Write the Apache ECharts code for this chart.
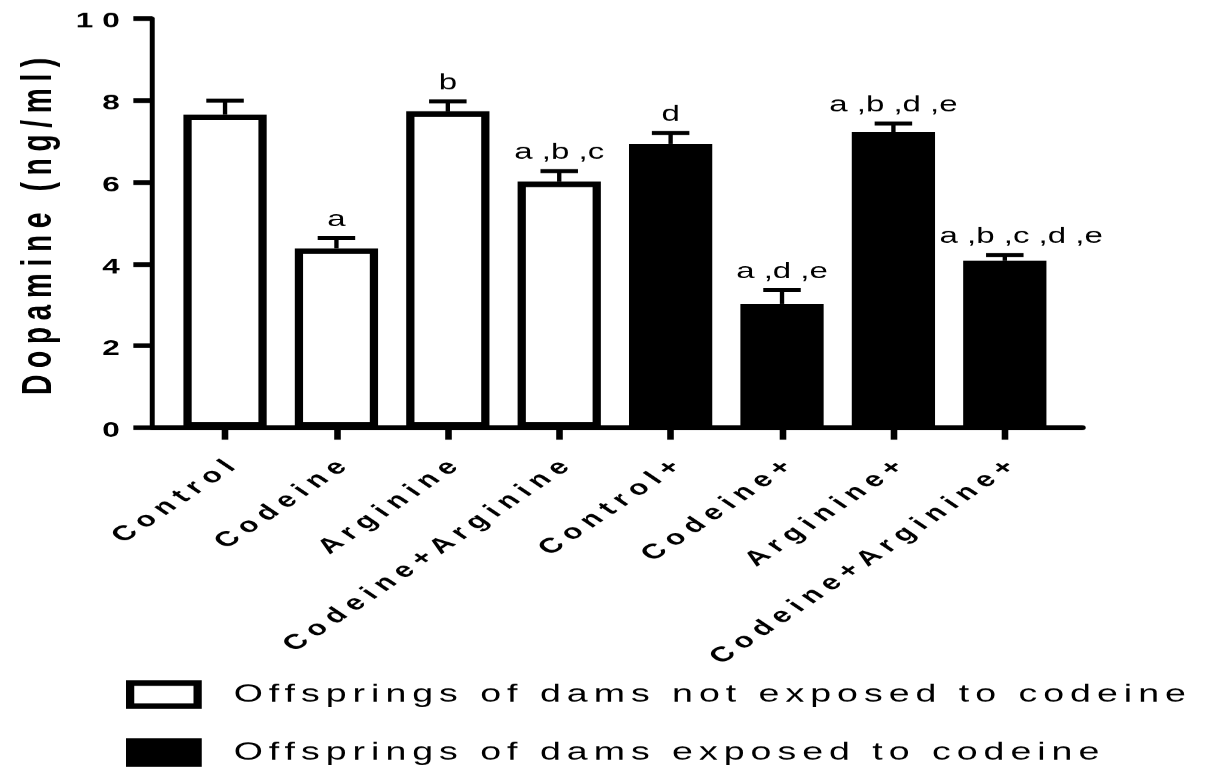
<!DOCTYPE html>
<html>
<head>
<meta charset="utf-8">
<script src="https://cdn.jsdelivr.net/npm/echarts@6/dist/echarts.min.js"></script>
<style>
  html, body { margin: 0; padding: 0; background: #fff; overflow: hidden; }
  #wrap { width: 1206px; height: 767px; overflow: hidden; }
  #chart { width: 804px; height: 767px; transform: scaleX(1.5); transform-origin: 0 0; }
</style>
</head>
<body>
<div id="wrap"><div id="chart"></div></div>
<script>
// ---------------- data ----------------
const categories = ['Control', 'Codeine', 'Arginine', 'Codeine+Arginine',
                    'Control+', 'Codeine+', 'Arginine+', 'Codeine+Arginine+'];
const notExposedMeans = [7.65, 4.38, 7.73, 6.01, null, null, null, null];
const exposedMeans    = [null, null, null, null, 6.93, 3.02, 7.22, 4.08];
const semValues       = [0.34, 0.25, 0.24, 0.26, 0.27, 0.34, 0.21, 0.14];
const sigLabels       = ['', 'a', 'b', 'a ,b ,c', 'd', 'a ,d ,e', 'a ,b ,d ,e', 'a ,b ,c ,d ,e'];
const seriesNames     = ['Offsprings of dams not exposed to codeine',
                         'Offsprings of dams exposed to codeine'];
const yAxisTitle      = 'Dopamine (ng/ml)';
const yMin = 0, yMax = 10, yStep = 2;

// ---------------- text letter spacing (by font size) ----------------
const LETTER_SPACING = { '21': 6, '20.9': 5.4, '22': 0, '25': 4, '28': 6.7 };
(function () {
  const proto = CanvasRenderingContext2D.prototype;
  const orig = proto.fillText;
  proto.fillText = function (text, x, y, maxW) {
    const m = /(\d+(?:\.\d+)?)px/.exec(this.font || '');
    const ls = (m && LETTER_SPACING[m[1]]) || 0;
    const has = ('letterSpacing' in this);
    if (has) this.letterSpacing = ls + 'px';
    const r = maxW === undefined ? orig.call(this, text, x, y) : orig.call(this, text, x, y, maxW);
    if (has) this.letterSpacing = '0px';
    return r;
  };
})();

const FONT = 'Liberation Sans';
const BAR_W = 55.5;
const ANNOT_FONT = '22px "' + FONT + '"';
const measureCtx = document.createElement('canvas').getContext('2d');
function textWidth(t, font) { measureCtx.font = font; return measureCtx.measureText(t).width; }

const means = categories.map((c, i) => notExposedMeans[i] != null ? notExposedMeans[i] : exposedMeans[i]);
const errData = categories.map((c, i) => [i, means[i], semValues[i]]);

const chart = echarts.init(document.getElementById('chart'), null,
  { renderer: 'canvas', devicePixelRatio: 1.5, width: 804, height: 767 });

const gridBox = { top: 18.3, bottom: 339.5, outerBoundsMode: 'none', containLabel: false };

chart.setOption({
  animation: false,
  backgroundColor: '#fff',
  grid: [
    Object.assign({ left: 112.9, right: 97 }, gridBox),   // bars
    Object.assign({ left: 101.7, right: 82.7 }, gridBox)  // axis frame
  ],
  legend: {
    orient: 'vertical',
    left: 84,
    top: 680,
    height: 200,
    padding: 0,
    itemGap: 29.5,
    itemWidth: 45,
    itemHeight: 23,
    icon: 'rect',
    selectedMode: false,
    itemStyle: { borderColor: '#000', borderWidth: 5.5 },
    textStyle: { fontFamily: FONT, fontSize: 25, color: '#000', padding: [0, 0, 0, 19] },
    data: seriesNames.map(n => ({ name: n, icon: 'rect' }))
  },
  xAxis: [
    {
      type: 'category', gridIndex: 0, data: categories,
      axisLine: { show: false },
      axisTick: { show: true, alignWithLabel: true, length: 12, lineStyle: { color: '#000', width: 4.4 } },
      axisLabel: {
        interval: 0, rotate: 45, margin: 25, verticalAlign: 'top', lineHeight: 21,
        fontFamily: FONT, fontSize: 20.9, fontWeight: 'bold', color: '#000'
      },
      splitLine: { show: false }
    },
    {
      type: 'value', gridIndex: 1, min: 0, max: 1,
      axisLine: { show: true, onZero: false, lineStyle: { color: '#000', width: 5 } },
      axisTick: { show: false }, axisLabel: { show: false }, splitLine: { show: false }
    }
  ],
  yAxis: [
    {
      type: 'value', gridIndex: 0, min: yMin, max: yMax, interval: yStep, show: false
    },
    {
      type: 'value', gridIndex: 1, min: yMin, max: yMax, interval: yStep,
      name: yAxisTitle, nameLocation: 'middle', nameRotate: 90, nameGap: 61.5,
      nameTextStyle: { fontFamily: FONT, fontSize: 28, fontWeight: 'bold', color: '#000' },
      axisLine: { show: true, lineStyle: { color: '#000', width: 3.3 } },
      axisTick: { show: true, length: 12.8, lineStyle: { color: '#000', width: 4.7 } },
      axisLabel: { margin: 15.8, verticalAlign: 'top', lineHeight: 7,
                   fontFamily: FONT, fontSize: 21, fontWeight: 'bold', color: '#000' },
      splitLine: { show: false }
    }
  ],
  series: [
    {
      name: seriesNames[0], type: 'bar', xAxisIndex: 0, yAxisIndex: 0,
      data: notExposedMeans, barWidth: BAR_W, barGap: '-100%', z: 2,
      itemStyle: { color: '#fff', borderColor: '#000', borderWidth: 5.5 },
      emphasis: { disabled: true }
    },
    {
      name: seriesNames[1], type: 'bar', xAxisIndex: 0, yAxisIndex: 0,
      data: exposedMeans, barWidth: BAR_W, barGap: '-100%', z: 2,
      itemStyle: { color: '#000', borderColor: '#000', borderWidth: 5.5 },
      emphasis: { disabled: true }
    },
    {
      name: 'SEM', type: 'custom', xAxisIndex: 0, yAxisIndex: 0, z: 3,
      encode: { x: 0, y: 1 },
      data: errData,
      renderItem: function (params, api) {
        const idx = params.dataIndex;
        const i = api.value(0), m = api.value(1), e = api.value(2);
        const base = api.coord([i, m]);
        const top = api.coord([i, m + e]);
        const half = 12.5;
        const label = sigLabels[idx];
        const labelBottom = top[1] - 7;
        let lx = base[0];
        // keep the label clear of a taller neighbouring bar on the left
        if (idx > 0 && label) {
          const prevTop = api.coord([i - 1, means[idx - 1]]);
          const prevRight = prevTop[0] + BAR_W / 2 + 3;
          const left = lx - textWidth(label, ANNOT_FONT) / 2;
          if (prevTop[1] < labelBottom && left < prevRight) lx += prevRight - left;
        }
        return {
          type: 'group',
          children: [
            { type: 'line', shape: { x1: base[0], y1: base[1], x2: base[0], y2: top[1] },
              style: { stroke: '#000', lineWidth: 2.9 } },
            { type: 'line', shape: { x1: base[0] - half, y1: top[1], x2: base[0] + half, y2: top[1] },
              style: { stroke: '#000', lineWidth: 4 } },
            { type: 'text', x: lx, y: labelBottom,
              style: { text: label, align: 'center', verticalAlign: 'bottom',
                       fontSize: 22, fontFamily: FONT, fill: '#000' } }
          ]
        };
      }
    }
  ]
});
</script>
</body>
</html>
